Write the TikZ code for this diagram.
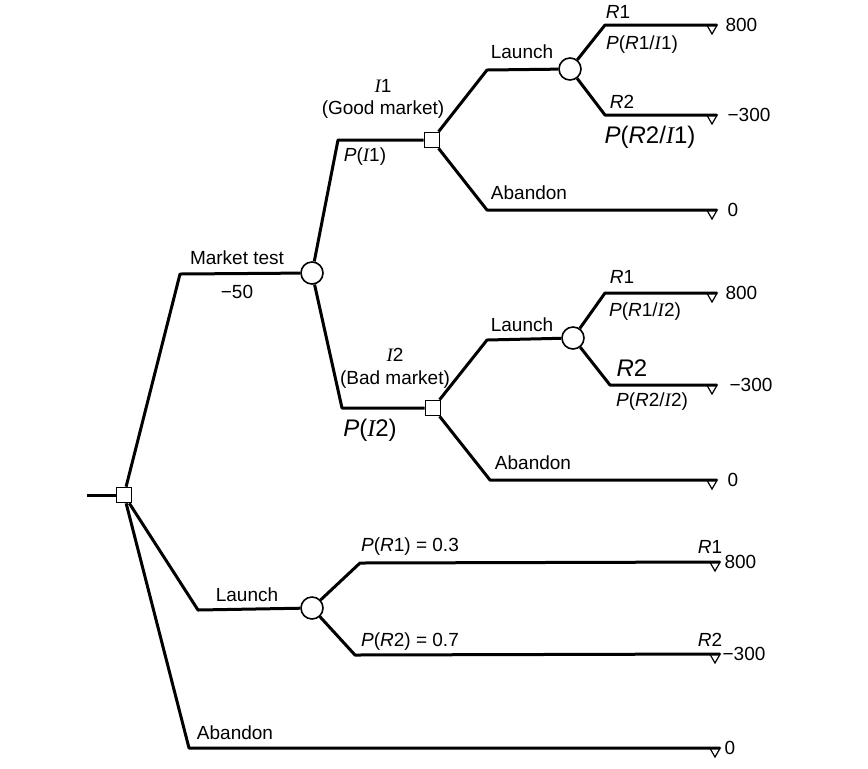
\documentclass[tikz,border=0pt]{standalone}
\usepackage{fontspec}
\setmainfont{Liberation Sans}
\newfontfamily\timesfont{Liberation Serif}
\usetikzlibrary{shapes.geometric,positioning}
\newcommand{\vI}{{\timesfont\itshape I}}

\begin{document}
\begin{tikzpicture}[x=0.5pt,y=-0.5pt,
	branch/.style={line width=1.5pt,line join=round},
	decision/.style={draw,line width=0.8pt,rectangle,minimum size=7.5pt,inner sep=0,fill=white},
	chance/.style={draw,line width=0.8pt,circle,minimum size=11pt,inner sep=0,fill=white},
	leaf/.style={draw,line width=0.6pt,regular polygon,regular polygon sides=3,shape border rotate=180,minimum size=6pt,inner sep=0,outer sep=0,anchor=side 2},
	lab/.style={inner sep=0,font=\fontsize{9.5}{11}\selectfont},
	biglab/.style={inner sep=0,font=\fontsize{12}{14}\selectfont}]
	\useasboundingbox (0,0) rectangle (868,768);

	% decisions and chances
	\node[decision] (d0) at (124,495) {};
	\node[chance] (c1) at (312,273) {};
	\node[decision] (d1) at (432,140) {};
	\node[decision] (d2) at (433,408) {};
	\node[chance] (c2) at (570,69) {};
	\node[chance] (c3) at (573,338) {};
	\node[chance] (c4) at (312,608) {};

	% ends
	\node[leaf] (t1) at (712,25) {};
	\node[leaf] (t2) at (712,115) {};
	\node[leaf] (t3) at (712,210) {};
	\node[leaf] (t4) at (712,293) {};
	\node[leaf] (t5) at (712,385) {};
	\node[leaf] (t6) at (712,480) {};
	\node[leaf] (t7) at (715,562) {};
	\node[leaf] (t8) at (715,654) {};
	\node[leaf] (t9) at (715,748) {};

	% elbows
	\coordinate (start) at (87,495);
	\coordinate (mt) at (180,274);
	\coordinate (la) at (198,610);
	\coordinate (ab) at (189,748);
	\coordinate (i1) at (338,140);
	\coordinate (i2) at (342,408);
	\coordinate (l1) at (487,70);
	\coordinate (a1) at (487,210);
	\coordinate (l2) at (487,340);
	\coordinate (a2) at (490,480);
	\coordinate (r11) at (605,25);
	\coordinate (r12) at (605,115);
	\coordinate (r21) at (605,293);
	\coordinate (r22) at (610,385);
	\coordinate (r31) at (360,563);
	\coordinate (r32) at (355,655);

	% branches
	\draw[branch] (start) -- (d0);
	\draw[branch] (d0) -- (mt) -- (c1);
	\draw[branch] (d0) -- (la) -- (c4);
	\draw[branch] (d0) -- (ab) -- (t9.corner 2);
	\draw[branch] (c1) -- (i1) -- (d1);
	\draw[branch] (c1) -- (i2) -- (d2);
	\draw[branch] (d1) -- (l1) -- (c2);
	\draw[branch] (d1) -- (a1) -- (t3.corner 2);
	\draw[branch] (d2) -- (l2) -- (c3);
	\draw[branch] (d2) -- (a2) -- (t6.corner 2);
	\draw[branch] (c2) -- (r11) -- (t1.corner 2);
	\draw[branch] (c2) -- (r12) -- (t2.corner 2);
	\draw[branch] (c3) -- (r21) -- (t4.corner 2);
	\draw[branch] (c3) -- (r22) -- (t5.corner 2);
	\draw[branch] (c4) -- (r31) -- (t7.corner 2);
	\draw[branch] (c4) -- (r32) -- (t8.corner 2);

	% payoffs
	\node[lab,right=4pt of t1.corner 2] (v1) {800};
	\node[lab,right=5pt of t2.corner 2] (v2) {−300};
	\node[lab,right=5pt of t3.corner 2] (v3) {0};
	\node[lab,right=4pt of t4.corner 2] (v4) {800};
	\node[lab,right=6pt of t5.corner 2] (v5) {−300};
	\node[lab,right=5pt of t6.corner 2] (v6) {0};
	\node[lab,right=2pt of t7.corner 2] (v7) {800};
	\node[lab,right=1pt of t8.corner 2] (v8) {−300};
	\node[lab,right=2pt of t9.corner 2] (v9) {0};

	% root labels
	\node[lab] (lmt) at (237,258) {Market test};
	\node[lab] (lcost) at (237,292) {−50};
	\node[lab] (lla) at (247,595) {Launch};
	\node[lab] (lab0) at (235,733) {Abandon};

	% market test outcomes
	\node[lab] (li1) at (383,86) {\vI1};
	\node[lab] (lgood) at (383,110) {(Good market)};
	\node[lab] (lpi1) at (365,157) {\textit{P}(\vI1)};
	\node[lab] (li2) at (395,355) {\vI2};
	\node[lab] (lbad) at (395,380) {(Bad market)};
	\node[biglab] (lpi2) at (370,430) {\textit{P}(\vI2)};

	% good market
	\node[lab] (lla1) at (522,52) {Launch};
	\node[lab] (lab1) at (529,193) {Abandon};
	\node[lab] (lr11) at (618,12) {\textit{R}1};
	\node[lab] (lp11) at (642,45) {\textit{P}(\textit{R}1/\vI1)};
	\node[lab] (lr12) at (622,102) {\textit{R}2};
	\node[biglab] (lp12) at (650,137) {\textit{P}(\textit{R}2/\vI1)};

	% bad market
	\node[lab] (lla2) at (522,325) {Launch};
	\node[lab] (lab2) at (533,463) {Abandon};
	\node[lab] (lr21) at (622,277) {\textit{R}1};
	\node[lab] (lp21) at (645,312) {\textit{P}(\textit{R}1/\vI2)};
	\node[biglab] (lr22) at (632,368) {\textit{R}2};
	\node[lab] (lp22) at (652,402) {\textit{P}(\textit{R}2/\vI2)};

	% launch now
	\node[lab] (lp31) at (410,547) {\textit{P}(\textit{R}1) = 0.3};
	\node[lab] (lp32) at (410,642) {\textit{P}(\textit{R}2) = 0.7};
	\node[lab] (lr31) at (710,547) {\textit{R}1};
	\node[lab] (lr32) at (710,640) {\textit{R}2};
\end{tikzpicture}
\end{document}
